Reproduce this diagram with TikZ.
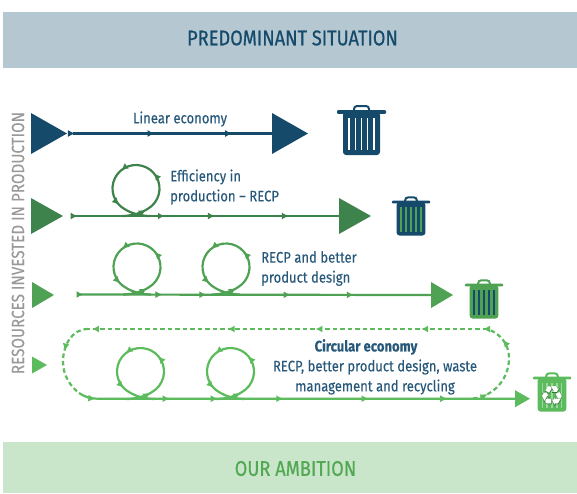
\documentclass[tikz,border=0pt]{standalone}
\usepackage{fontspec}
\setmainfont[FakeStretch=.86,FakeBold=.2]{Fira Sans}
\newfontfamily\headfont[FakeStretch=.86,FakeBold=.6]{Fira Sans}
\newfontfamily\symfont{DejaVu Sans}
\newfontfamily\symfontbold[FakeBold=2.5]{DejaVu Sans}
\usetikzlibrary{shapes.geometric,arrows.meta,decorations.markings}
\definecolor{navy}{HTML}{154A6B}
\definecolor{inktext}{HTML}{27587A}
\definecolor{greentwo}{HTML}{3F834C}
\definecolor{greenthree}{HTML}{4FA153}
\definecolor{greenfour}{HTML}{5CBB5C}
\definecolor{greendark}{HTML}{2F7A3A}
\definecolor{bannertop}{HTML}{B5C8D2}
\definecolor{bannerlow}{HTML}{C9E6CB}
\tikzset{
    flow/.style = {line width=2.2pt},
    back/.style = {line width=2.2pt, dash pattern=on 4.5pt off 3pt},
    tickat/.style = {postaction={decorate,decoration={markings,
        mark=at position #1 with {\arrow{Latex[length=7pt,width=7pt]}}}}},
    banner/.style = {minimum width=574pt, inner sep=0pt},
    bannertext/.style = {inner sep=0pt, font=\headfont\fontsize{21.2}{24}\selectfont},
    bigtip/.style = {isosceles triangle, isosceles triangle stretches, inner sep=0pt, outer sep=0pt, anchor=west},
    lbl/.style = {text=inktext, font=\fontsize{15.2}{20}\selectfont, inner sep=0pt},
    pics/knot/.style = {code={
        \draw[flow,tickat=.14,tickat=.385,tickat=.59,tickat=.81] (-14,27.5) .. controls (-6,27.5) and (5,25) .. (11.75,20.35) arc (60:-240:23.5) .. controls (-5,25) and (6,27.5) .. (14,27.5);
    }}
}
\newcommand{\trashbin}[6]{%
    \begin{scope}[shift={#1},scale=#2]
        \fill[#3,rounded corners=1pt] (-24.5,-1.8) rectangle (24.5,1.8);
        \fill[#3,rounded corners=3pt] (-18.5,0) -- (18.5,0) -- (18.5,43) -- (-18.5,43) -- cycle;
        \draw[#3,line width=2pt,rounded corners=3pt] (-7.5,0) -- (-7.5,-6) -- (7.5,-6) -- (7.5,0);
        \fill[#4] (-12.4,#5) ++(-#6/2,0) rectangle ++(#6,32);
        \fill[#4] (-6.2,#5) ++(-#6/2,0) rectangle ++(#6,32);
        \fill[#4] (0,#5) ++(-#6/2,0) rectangle ++(#6,32);
        \fill[#4] (6.2,#5) ++(-#6/2,0) rectangle ++(#6,32);
        \fill[#4] (12.4,#5) ++(-#6/2,0) rectangle ++(#6,32);
    \end{scope}}

\begin{document}
\begin{tikzpicture}[x=1pt,y=-1pt]
\useasboundingbox (0,0) rectangle (577,493);

    %banners
    \node[banner, fill=bannertop, minimum height=56pt] (top) at (290,39.5) {};
    \node[bannertext, text=navy] (toptext) at (292.5,38) {PREDOMINANT SITUATION};
    \node[banner, fill=bannerlow, minimum height=51pt] (bottom) at (290,467.5) {};
    \node[bannertext, text=greenfour!90!black] (bottomtext) at (295.5,468.5) {OUR AMBITION};
    \node[rotate=90, text=gray!80, font=\fontsize{17.7}{20}\selectfont, inner sep=0pt] (side) at (18,243) {RESOURCES INVESTED IN PRODUCTION};

    %Row 1
    \node[bigtip, fill=navy, minimum height=36pt, minimum width=41pt] (in1) at (31,133.5) {};
    \node[bigtip, fill=navy, minimum height=36pt, minimum width=41pt] (out1) at (272,133.5) {};
    \coordinate (s1) at (73,133.5);
    \draw[navy,flow,tickat=.01,tickat=.41,tickat=.80] (s1) -- (out1.west);
    \node[lbl] (t1) at (180,119) {Linear economy};
    \trashbin{(361.5,112)}{1}{navy}{white}{6}{1.5}

    %Row 2
    \node[bigtip, fill=greentwo, minimum height=32pt, minimum width=36pt] (in2) at (31,216) {};
    \node[bigtip, fill=greentwo, minimum height=32pt, minimum width=36pt] (out2) at (339,216) {};
    \coordinate (s2) at (75,216);
    \draw[greentwo,flow,tickat=.01,tickat=.34,tickat=.53,tickat=.81] (s2) -- (out2.west);
    \pic[color=greentwo] at (136,188.5) {knot};
    \node[lbl, align=left, anchor=west] (t2) at (170,187) {Efficiency in\\production -- RECP};
    \trashbin{(411,202)}{.78}{navy}{greenthree}{6}{2.8}

    %Row 3
    \node[bigtip, fill=greenthree, minimum height=22pt, minimum width=26pt] (in3) at (32,295) {};
    \node[bigtip, fill=greenthree, minimum height=22pt, minimum width=26pt] (out3) at (431,295) {};
    \coordinate (s3) at (80,294.5);
    \draw[greenthree,flow,tickat=.01,tickat=.235,tickat=.36,tickat=.6,tickat=.78] (s3) -- (out3.west);
    \pic[color=greenthree] at (137,267) {knot};
    \pic[color=greenthree] at (226,267) {knot};
    \node[lbl, align=left, anchor=west] (t3) at (261,268.5) {RECP and better\\product design};
    \trashbin{(484,285)}{.78}{greenthree}{navy}{6}{2.4}

    %Row 4
    \node[bigtip, fill=greenfour, minimum height=15pt, minimum width=17pt] (in4) at (32,365) {};
    \node[bigtip, fill=greenfour, minimum height=15pt, minimum width=17pt] (out4) at (515,398.7) {};
    \coordinate (s4) at (79,393);
    \coordinate (r4) at (473,398.5);
    \coordinate (u4) at (487,329);
    \coordinate (v4) at (88,329);
    \draw[greenfour,flow,tickat=.04,tickat=.21,tickat=.32,tickat=.47,tickat=.665,tickat=.845] (s4) .. controls (85,397) and (90,398.7) .. (99,398.7) -- (out4.west);
    \draw[greenfour,back,tickat=.155,tickat=.8] (r4) .. controls (495,396) and (509,378) .. (509,358) .. controls (509,344) and (500,333) .. (u4);
    \draw[greenfour,back,tickat=.01,tickat=.165,tickat=.43,tickat=.65,tickat=.99] (u4) -- (v4);
    \draw[greenfour,back,tickat=.42] (v4) .. controls (72,329) and (63,345) .. (63,362) .. controls (63,375) and (70,386) .. (s4);
    \pic[color=greenfour] at (140.5,371.5) {knot};
    \pic[color=greenfour] at (230.5,371.5) {knot};
    \node[lbl, font=\fontsize{15.2}{20}\selectfont\bfseries] (t4) at (366,347) {Circular economy};
    \node[lbl, align=center] (d4) at (375,377) {RECP, better product design, waste\\management and recycling};
    \trashbin{(552,378)}{.78}{greenfour}{greenfour!60!white}{6}{2}
    \node[text=greendark, inner sep=0pt, font=\symfontbold\fontsize{27}{27}\selectfont] (rec) at (552,396) {♻};
    \node[text=white, inner sep=0pt, font=\symfont\fontsize{27}{27}\selectfont] (rectop) at (552,396) {♻};
\end{tikzpicture}
\end{document}
